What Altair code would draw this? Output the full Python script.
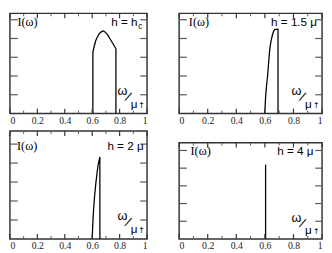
import altair as alt
import pandas as pd

# ---- data ----
x_label_values = [0, 0.2, 0.4, 0.6, 0.8, 1]
major_x = [0, 0.2, 0.4, 0.6, 0.8, 1.0]
minor_x = [0.1, 0.3, 0.5, 0.7, 0.9]
y_ticks = [1, 2, 3, 4, 5]

p1_w = [0.605, 0.605, 0.615, 0.626, 0.638, 0.649, 0.66, 0.671, 0.682, 0.693, 0.705, 0.716, 0.735, 0.755, 0.773, 0.773]
p1_I = [0, 3.26, 3.6, 3.89, 4.08, 4.23, 4.32, 4.38, 4.40, 4.35, 4.26, 4.15, 3.92, 3.68, 3.45, 0]

p2_w = [0.599, 0.603, 0.607, 0.613, 0.619, 0.627, 0.635, 0.644, 0.653, 0.661, 0.669, 0.692, 0.692]
p2_I = [0, 0.6, 1.1, 1.6, 2.0, 2.8, 3.5, 3.9, 4.2, 4.38, 4.48, 4.5, 0]

p3_w = [0.600, 0.605, 0.610, 0.618, 0.626, 0.634, 0.642, 0.649, 0.656, 0.656]
p3_I = [0, 0.9, 1.55, 2.3, 2.9, 3.4, 3.85, 4.1, 4.32, 0]

p4_w = [0.605, 0.605]
p4_I = [0, 4.2]

h_labels = ["h = h", "h = 1.5 μ", "h = 2 μ", "h = 4 μ"]

SERIF = "Times New Roman, Liberation Serif, DejaVu Serif, serif"
SANS = "Liberation Sans, Arial, sans-serif"


def panel(w, I, hlabel, ymax, width, height, hx, top_y, ilab_x, sub_c=False):
    xs = alt.Scale(domain=[0, 1], nice=False, zero=False)
    ys = alt.Scale(domain=[0, ymax], nice=False, zero=False)
    xaxis = alt.Axis(values=x_label_values, format="~g", ticks=False, domain=False,
                     grid=False, labelFont=SERIF, labelFontSize=10, labelColor="#222",
                     labelPadding=2, title=None, tickSize=0)
    X = alt.X("w:Q", scale=xs, axis=xaxis)
    Y = alt.Y("I:Q", scale=ys, axis=None)

    curve = alt.Chart(pd.DataFrame({"w": w, "I": I, "i": list(range(len(w)))})).mark_line(
        color="black", strokeWidth=1.3).encode(x=X, y=Y, order="i:Q")

    bmaj = alt.Chart(pd.DataFrame({"w": major_x})).mark_rule(color="#333", strokeWidth=1.2).encode(
        x=X, y=alt.value(height), y2=alt.value(height - 5))
    bmin = alt.Chart(pd.DataFrame({"w": minor_x})).mark_rule(color="#555", strokeWidth=1).encode(
        x=X, y=alt.value(height), y2=alt.value(height - 3))
    tmaj = alt.Chart(pd.DataFrame({"w": major_x})).mark_rule(color="#333", strokeWidth=1.2).encode(
        x=X, y=alt.value(0), y2=alt.value(5))
    tmin = alt.Chart(pd.DataFrame({"w": minor_x})).mark_rule(color="#555", strokeWidth=1).encode(
        x=X, y=alt.value(0), y2=alt.value(3))
    lt = alt.Chart(pd.DataFrame({"I": y_ticks})).mark_rule(color="#555", strokeWidth=1.2).encode(
        y=Y, x=alt.value(0), x2=alt.value(8))
    rt = alt.Chart(pd.DataFrame({"I": y_ticks})).mark_rule(color="#555", strokeWidth=1.2).encode(
        y=Y, x=alt.value(width), x2=alt.value(width - 7))

    ilab = alt.Chart(pd.DataFrame({"w": [ilab_x], "I": [top_y], "t": ["I(ω)"]})).mark_text(
        font=SERIF, fontSize=12.5, align="left", baseline="middle", color="black").encode(
        x=X, y=Y, text="t:N")

    layers = [curve, bmaj, bmin, tmaj, tmin, lt, rt, ilab]

    if sub_c:
        hl = alt.Chart(pd.DataFrame({"w": [hx - 0.045], "I": [top_y], "t": [hlabel]})).mark_text(
            font=SANS, fontSize=12, align="right", baseline="middle", color="black").encode(
            x=X, y=Y, text="t:N")
        sc = alt.Chart(pd.DataFrame({"w": [hx - 0.04], "I": [top_y - 0.22], "t": ["c"]})).mark_text(
            font=SANS, fontSize=8.5, align="left", baseline="middle", color="black").encode(
            x=X, y=Y, text="t:N")
        layers += [hl, sc]
    else:
        hl = alt.Chart(pd.DataFrame({"w": [hx], "I": [top_y], "t": [hlabel]})).mark_text(
            font=SANS, fontSize=12, align="right", baseline="middle", color="black").encode(
            x=X, y=Y, text="t:N")
        layers += [hl]

    # omega / mu label
    om = alt.Chart(pd.DataFrame({"w": [0.82], "I": [1.2], "t": ["ω"]})).mark_text(
        font=SANS, fontSize=13, align="center", baseline="middle", color="black").encode(
        x=X, y=Y, text="t:N")
    sl = alt.Chart(pd.DataFrame({"w": [0.86], "I": [0.85], "t": ["/"]})).mark_text(
        font=SANS, fontSize=14, align="center", baseline="middle", color="black", angle=25).encode(
        x=X, y=Y, text="t:N")
    mu = alt.Chart(pd.DataFrame({"w": [0.905], "I": [0.52], "t": ["μ"]})).mark_text(
        font=SANS, fontSize=12, align="center", baseline="middle", color="black").encode(
        x=X, y=Y, text="t:N")
    ar = alt.Chart(pd.DataFrame({"w": [0.96], "I": [0.4], "t": ["↑"]})).mark_text(
        font="DejaVu Sans", fontSize=8, align="center", baseline="middle", color="black").encode(
        x=X, y=Y, text="t:N")
    layers += [om, sl, mu, ar]

    return alt.layer(*layers).properties(width=width, height=height)


p1 = panel(p1_w, p1_I, h_labels[0], 5.34, 141, 103, 0.975, 4.9, 0.055, sub_c=True)
p2 = panel(p2_w, p2_I, h_labels[1], 5.34, 147, 103, 0.965, 4.9, 0.068)
p3 = panel(p3_w, p3_I, h_labels[2], 5.69, 141, 111, 0.975, 4.9, 0.052)
p4 = panel(p4_w, p4_I, h_labels[3], 5.44, 147, 99, 0.94, 4.95, 0.08)

spacer = alt.Chart(pd.DataFrame({"a": [0]})).mark_point(opacity=0).encode(
    x=alt.value(0), y=alt.value(0)).properties(width=147, height=2,
                                               view=alt.ViewBackground(strokeOpacity=0))

left = alt.vconcat(p1, p3, spacing=18, bounds="flush")
right = alt.vconcat(p2, spacer, p4, spacing=14, bounds="flush")

chart = alt.hconcat(left, right, spacing=28).properties(
    padding={"left": 0, "top": 0, "right": 0, "bottom": 0}
).configure_view(stroke="#333", strokeWidth=1.5)

chart.save("out.html", embed_options={"renderer": "svg", "actions": False})
